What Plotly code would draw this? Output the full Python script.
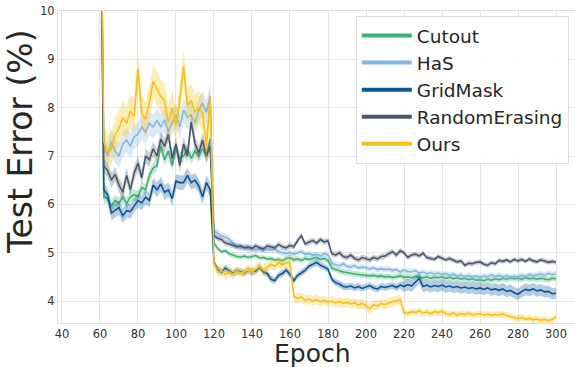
import plotly.graph_objects as go

EPOCHS = list(range(60, 301, 2))
SERIES_NAMES = ["Cutout", "HaS", "GridMask", "RandomErasing", "Ours"]
COLORS = ["#3cb371", "#82b8e2", "#0b5599", "#4b566e", "#fbbf12"]
X_TICKS = list(range(40, 301, 20))
Y_TICKS = [4, 5, 6, 7, 8, 9, 10]

cutout = [14,
    6.15, 6.12, 5.97, 6.08, 6.02, 6.16, 6.02, 6.15, 6.2, 6.16,
    6.35, 6.3, 6.6, 6.75, 6.8, 7.2, 6.92, 7.1, 6.8, 7.15,
    6.95, 7.0, 7.15, 6.95, 7.1, 7.0, 7.15, 7.0, 7.35,
    5.2, 5.08, 5.02, 5.04, 4.98, 4.95, 4.92, 4.91, 4.93, 4.9,
    4.92, 4.94, 4.89, 4.9, 4.87, 4.88, 4.85, 4.86, 4.83, 4.88,
    4.9, 4.85, 4.87, 4.84, 4.88, 4.86, 4.88, 4.9, 4.86, 4.88,
    4.84, 4.68, 4.65, 4.62, 4.6, 4.59, 4.57, 4.56, 4.55, 4.54,
    4.53, 4.52, 4.53, 4.51, 4.52, 4.5, 4.51, 4.49, 4.5, 4.52,
    4.49, 4.5, 4.48, 4.51, 4.5, 4.48, 4.5, 4.47, 4.49, 4.48,
    4.5, 4.47, 4.49, 4.46, 4.48, 4.45, 4.47, 4.44, 4.46, 4.43,
    4.44, 4.42, 4.45, 4.43, 4.46, 4.44, 4.47, 4.45, 4.48, 4.46,
    4.47, 4.45, 4.48, 4.46, 4.47, 4.45, 4.47, 4.46, 4.44, 4.47,
    4.46]

has = [14,
    7.2, 7.0, 7.3, 7.1, 7.0, 7.25, 7.33, 7.2, 7.4, 7.45,
    7.6, 7.5, 7.68, 7.6, 7.74, 7.6, 7.75, 7.5, 7.7, 7.85,
    7.6, 7.95, 7.8, 7.85, 7.68, 7.95, 8.1, 7.9, 8.25,
    5.45, 5.4, 5.35, 5.32, 5.28, 5.2, 5.15, 5.1, 5.12, 5.07,
    5.08, 5.05, 5.08, 5.04, 5.07, 5.05, 5.08, 5.02, 5.0, 4.98,
    5.0, 4.97, 5.0, 5.02, 4.97, 4.98, 4.95, 4.97, 4.93, 4.98,
    4.96, 4.78, 4.75, 4.73, 4.77, 4.72, 4.7, 4.73, 4.68, 4.7,
    4.69, 4.66, 4.69, 4.65, 4.67, 4.65, 4.66, 4.63, 4.65, 4.6,
    4.64, 4.61, 4.6, 4.63, 4.58, 4.6, 4.57, 4.59, 4.56, 4.58,
    4.55, 4.57, 4.53, 4.56, 4.52, 4.54, 4.5, 4.53, 4.5, 4.52,
    4.49, 4.52, 4.5, 4.54, 4.51, 4.53, 4.5, 4.52, 4.49, 4.51,
    4.5, 4.53, 4.51, 4.55, 4.52, 4.54, 4.56, 4.53, 4.57, 4.55,
    4.56]

gridmask = [14,
    6.3, 6.2, 5.82, 5.88, 5.93, 5.76, 5.87, 5.85, 5.98, 6.08,
    6.03, 6.15, 6.08, 6.4, 6.3, 6.42, 6.25, 6.3, 6.12, 6.48,
    6.45, 6.45, 6.6, 6.45, 6.5, 6.38, 6.15, 6.45, 6.3,
    4.8, 4.65, 4.6, 4.68, 4.62, 4.57, 4.63, 4.6, 4.58, 4.64,
    4.6, 4.62, 4.7, 4.6, 4.57, 4.45, 4.42, 4.53, 4.57, 4.64,
    4.55, 4.42, 4.53, 4.58, 4.64, 4.72, 4.76, 4.8, 4.74, 4.7,
    4.66, 4.45, 4.38, 4.35, 4.3, 4.29, 4.31, 4.27, 4.3, 4.26,
    4.29, 4.32, 4.27, 4.25, 4.3, 4.28, 4.3, 4.32, 4.28, 4.33,
    4.3, 4.34, 4.31, 4.38, 4.47, 4.3, 4.33, 4.29, 4.32, 4.3,
    4.33, 4.29, 4.31, 4.28, 4.3, 4.27, 4.29, 4.26, 4.28, 4.25,
    4.27, 4.24, 4.27, 4.23, 4.25, 4.22, 4.25, 4.2, 4.22, 4.17,
    4.14, 4.2, 4.24, 4.22, 4.25, 4.21, 4.23, 4.19, 4.2, 4.15,
    4.16]

random_erasing = [14,
    6.8, 6.7, 6.5, 6.62, 6.4, 6.25, 6.6, 6.3, 6.65, 6.85,
    6.55, 7.0, 6.92, 7.15, 7.0, 7.35, 7.2, 7.45, 6.95, 7.25,
    6.8, 7.25, 7.0, 7.7, 7.26, 7.06, 7.33, 7.0, 7.2,
    5.35, 5.3, 5.27, 5.2, 5.18, 5.15, 5.12, 5.14, 5.1, 5.12,
    5.09, 5.14, 5.1, 5.08, 5.14, 5.12, 5.1, 5.17, 5.12, 5.1,
    5.15, 5.12, 5.25, 5.35, 5.18, 5.22, 5.25, 5.2, 5.27, 5.22,
    5.25, 4.98, 4.95, 5.0, 4.92, 4.9, 4.95, 4.88, 4.85, 4.9,
    4.88, 4.85, 4.9, 4.87, 4.92, 4.93, 4.98, 5.02, 4.95, 5.04,
    5.0, 4.9, 4.95, 4.97, 4.93, 4.99, 4.9, 4.88, 4.86, 4.92,
    4.88, 4.85, 4.88, 4.84, 4.81, 4.83, 4.74, 4.78, 4.77, 4.8,
    4.81, 4.76, 4.74, 4.79, 4.77, 4.84, 4.82, 4.85, 4.81, 4.86,
    4.83, 4.86, 4.82, 4.87, 4.83, 4.81, 4.85, 4.83, 4.8, 4.82,
    4.8]

ours = [14,
    7.3, 7.08, 7.15, 7.45, 7.57, 7.8, 7.68, 7.93, 7.82, 8.8,
    7.88, 7.76, 8.1, 8.55, 8.4, 8.23, 8.15, 7.7, 8.0, 7.62,
    8.15, 8.85, 8.05, 8.15, 7.92, 8.0, 7.88, 7.2, 8.2,
    4.78, 4.6, 4.63, 4.55, 4.6, 4.55, 4.62, 4.58, 4.6, 4.65,
    4.6, 4.66, 4.72, 4.64, 4.7, 4.76, 4.72, 4.8, 4.75, 4.79,
    4.8, 4.1, 4.05, 4.08, 4.02, 4.04, 4.0, 4.03, 3.99, 4.01,
    3.98, 4.0, 3.96, 3.99, 3.95, 3.97, 3.94, 3.96, 3.92, 3.95,
    3.9, 3.84, 3.92, 3.9, 3.95, 3.93, 3.96, 3.98, 4.0, 4.03,
    3.76, 3.74, 3.78, 3.76, 3.8, 3.75, 3.77, 3.74, 3.78, 3.76,
    3.79, 3.74, 3.72, 3.75, 3.71, 3.74, 3.72, 3.75, 3.71, 3.73,
    3.74, 3.71, 3.73, 3.7, 3.72, 3.71, 3.73, 3.7, 3.68, 3.65,
    3.64, 3.66, 3.62, 3.64, 3.61, 3.63, 3.6, 3.62, 3.59, 3.62,
    3.67]

# band half-widths per training phase (epochs <120, <160, <220, >=220)
PHASE_STARTS = [60, 120, 160, 220]
BANDS = {
    "Cutout": [0.12, 0.05, 0.06, 0.06],
    "HaS": [0.25, 0.07, 0.06, 0.06],
    "GridMask": [0.15, 0.07, 0.07, 0.12],
    "RandomErasing": [0.15, 0.06, 0.06, 0.05],
    "Ours": [0.35, 0.10, 0.10, 0.07],
}

VALUES = [cutout, has, gridmask, random_erasing, ours]
for v in VALUES:
    assert len(v) == len(EPOCHS), len(v)


def phase_of(e):
    p = 0
    for i, s in enumerate(PHASE_STARTS):
        if e >= s:
            p = i
    return p


def rgba(hexc, a):
    h = hexc.lstrip("#")
    r, g, b = int(h[0:2], 16), int(h[2:4], 16), int(h[4:6], 16)
    return f"rgba({r},{g},{b},{a})"


fig = go.Figure()
for name, vals, col in zip(SERIES_NAMES, VALUES, COLORS):
    hw = [BANDS[name][phase_of(e)] for e in EPOCHS]
    upper = [v + h for v, h in zip(vals, hw)]
    lower = [v - h for v, h in zip(vals, hw)]
    fig.add_trace(go.Scatter(
        x=EPOCHS + EPOCHS[::-1], y=upper + lower[::-1],
        fill="toself", fillcolor=rgba(col, 0.3), line=dict(width=0),
        mode="lines", showlegend=False, hoverinfo="skip"))
    fig.add_trace(go.Scatter(
        x=EPOCHS, y=vals, mode="lines", line=dict(color=col, width=1.6),
        showlegend=False, name=name))

for name, col in zip(SERIES_NAMES, COLORS):
    fig.add_trace(go.Scatter(x=[None], y=[None], mode="lines",
                             line=dict(color=col, width=4), name=name))

grid = "#e5e5e5"
fig.update_layout(
    width=575, height=367,
    margin=dict(l=58, r=0, t=11, b=44),
    plot_bgcolor="white", paper_bgcolor="white",
    font=dict(family="DejaVu Sans", color="#333333"),
    showlegend=True,
    legend=dict(x=0.576, y=(323 - 16) / 312, xanchor="left", yanchor="top",
                bgcolor="rgba(255,255,255,0.85)", bordercolor="#dddddd",
                borderwidth=1, font=dict(size=18.5, color="#262626"),
                itemwidth=50),
    xaxis=dict(range=[37.9, 310], tickvals=X_TICKS, showgrid=True,
               gridcolor=grid, gridwidth=1.2, zeroline=False,
               showline=True, linecolor="#dedede", linewidth=1.2, mirror=True,
               ticks="", tickfont=dict(size=11.5, color="#333333")),
    yaxis=dict(range=[3.545, 10], tickvals=Y_TICKS, showgrid=True,
               gridcolor=grid, gridwidth=1.2, zeroline=False,
               showline=True, linecolor="#dedede", linewidth=1.2, mirror=True,
               ticks="", tickfont=dict(size=11.5, color="#333333")),
    annotations=[
        dict(text="Epoch", xref="paper", yref="paper",
             x=(312 - 58) / 517, y=-(353 - 323) / 312,
             xanchor="center", yanchor="middle", showarrow=False,
             borderpad=0, font=dict(size=25, color="#262626")),
        dict(text="Test Error (%)", xref="paper", yref="paper",
             x=-(58 - 21) / 517, y=(323 - 142) / 312, textangle=-90,
             xanchor="center", yanchor="middle", showarrow=False,
             font=dict(size=33, color="#262626")),
    ],
)

fig.write_html("out.html")
